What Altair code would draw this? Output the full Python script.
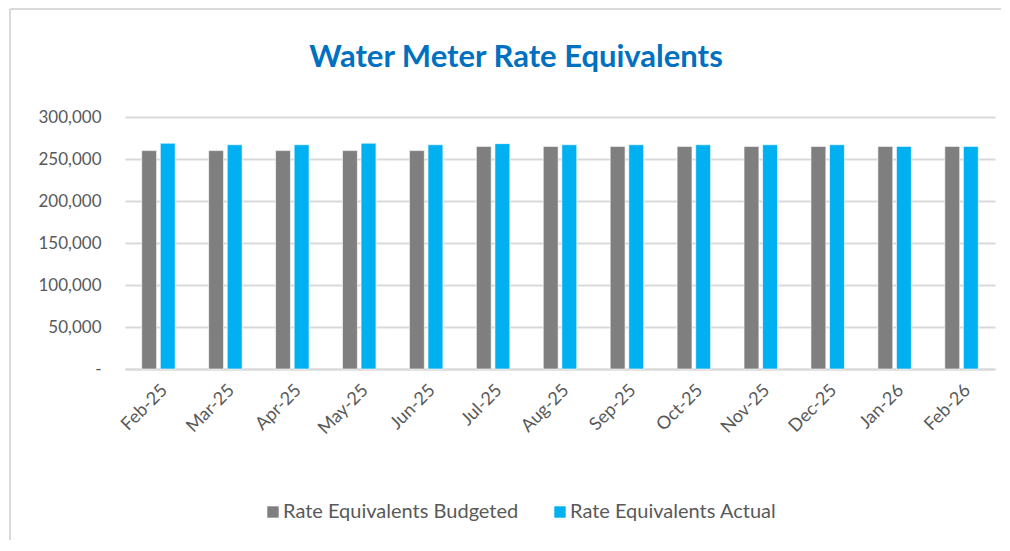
import altair as alt
import pandas as pd

months = ["Feb-25", "Mar-25", "Apr-25", "May-25", "Jun-25", "Jul-25", "Aug-25",
          "Sep-25", "Oct-25", "Nov-25", "Dec-25", "Jan-26", "Feb-26"]
budgeted = [260000, 260000, 260000, 260000, 260000, 265000, 265000,
            265000, 265000, 265000, 265000, 265000, 265000]
actual = [268800, 267000, 267000, 268800, 267000, 268300, 267000,
          267000, 267000, 267000, 267000, 265000, 265000]
series = ["Rate Equivalents Budgeted", "Rate Equivalents Actual"]
colors = ["#7F7F7F", "#00B0F0"]
y_ticks = [0, 50000, 100000, 150000, 200000, 250000, 300000]
title_text = "Water Meter Rate Equivalents"

rows = []
for m, b, a in zip(months, budgeted, actual):
    rows.append({"Month": m, "Series": series[0], "Value": b})
    rows.append({"Month": m, "Series": series[1], "Value": a})
df = pd.DataFrame(rows)

FONT = "Lato"
TXT = "#595959"

bars = alt.Chart(df).mark_bar(stroke="white", strokeWidth=0.6).encode(
    x=alt.X("Month:N", sort=months, title=None,
            scale=alt.Scale(paddingInner=0.5, paddingOuter=0.25),
            axis=alt.Axis(labelAngle=-45, labelFontSize=18, labelColor=TXT,
                          labelFont=FONT, ticks=False, domainColor="#D9D9D9",
                          domainWidth=2, labelPadding=12)),
    xOffset=alt.XOffset("Series:N", sort=series,
                        scale=alt.Scale(paddingInner=0.2, paddingOuter=0)),
    y=alt.Y("Value:Q", title=None,
            scale=alt.Scale(domain=[0, 300000], nice=False),
            axis=alt.Axis(values=y_ticks, domain=False, ticks=False,
                          labelExpr="datum.value == 0 ? '-' : format(datum.value, ',')",
                          labelFontSize=17, labelColor=TXT, labelFont=FONT,
                          labelPadding=24, gridColor="#D9D9D9", gridWidth=2)),
    color=alt.Color("Series:N", sort=series,
                    scale=alt.Scale(domain=series, range=colors),
                    legend=alt.Legend(title=None, orient="none", direction="horizontal",
                                      legendX=138, legendY=385,
                                      symbolType="square", symbolSize=130,
                                      symbolStrokeWidth=0, labelLimit=0,
                                      labelFontSize=20, labelColor=TXT,
                                      labelFont=FONT, columnPadding=31,
                                      labelOffset=0)),
)

one = alt.Data(values=[{}])
title_mark = alt.Chart(one).mark_text(
    font=FONT, fontSize=31, fontWeight="bold", color="#0070C0",
    align="center", baseline="middle").encode(
    x=alt.value(391), y=alt.value(-59), text=alt.value(title_text))
left_border = alt.Chart(one).mark_rule(color="#D9D9D9", strokeWidth=2).encode(
    x=alt.value(-115), y=alt.value(-108), y2=alt.value(434))
top_border = alt.Chart(one).mark_rule(color="#D9D9D9", strokeWidth=2).encode(
    x=alt.value(-115), x2=alt.value(877), y=alt.value(-108))

chart = alt.layer(bars, title_mark, left_border, top_border).properties(
    width=870, height=252,
    autosize=alt.AutoSizeParams(type="none"),
    padding={"left": 117, "top": 109, "right": 6, "bottom": 171},
).configure_view(stroke=None)

chart.save("out.html", embed_options={"renderer": "svg", "actions": False})
